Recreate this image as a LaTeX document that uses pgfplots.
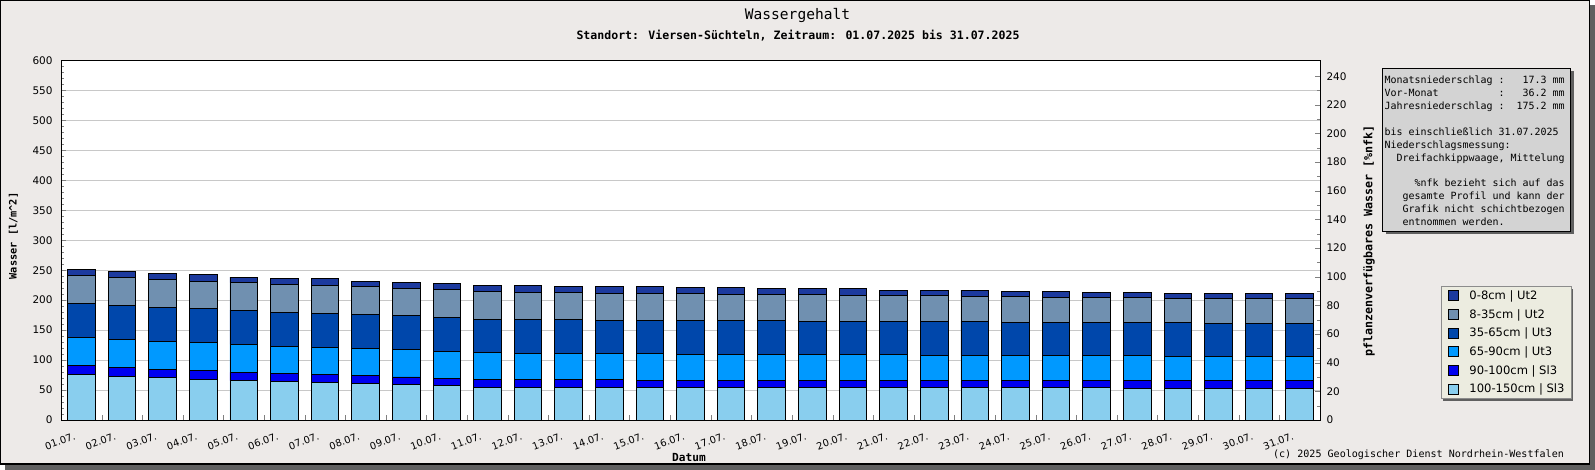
\documentclass[border=0pt]{standalone}
\usepackage{fontspec}
\setmainfont{DejaVu Sans}
\newfontfamily\mono{DejaVu Sans Mono}
\usepackage{pgfplots}
\pgfplotsset{compat=1.18}
\usepackage{pgfplotstable}

\definecolor{bgc}{RGB}{237,234,232}
\definecolor{shadowc}{RGB}{96,96,96}
\definecolor{boxc}{RGB}{211,211,211}
\definecolor{legbg}{RGB}{236,236,224}
\definecolor{legdraw}{RGB}{140,140,140}
\definecolor{gridc}{RGB}{200,200,200}
\definecolor{cA}{RGB}{137,206,238}
\definecolor{cB}{RGB}{0,0,240}
\definecolor{cC}{RGB}{0,153,255}
\definecolor{cD}{RGB}{0,71,171}
\definecolor{cE}{RGB}{112,144,176}
\definecolor{cF}{RGB}{28,58,158}

\pgfplotstableread{
day a b c d e f
1 76.3 15.0 46.8 56.8 46.7 10.1
2 72.4 15.6 46.7 56.8 46.8 10.0
3 70.7 13.9 46.8 56.8 46.8 10.0
4 67.9 15.1 46.7 56.3 45.6 10.6
5 65.7 13.9 46.8 56.8 46.2 8.9
6 64.0 14.0 45.0 56.8 46.8 10.0
7 62.4 13.9 45.1 56.8 46.8 10.5
8 60.7 13.9 45.1 56.8 46.8 8.3
9 59.5 12.3 46.3 56.5 45.1 10.3
10 58.3 11.7 45.0 56.7 46.6 8.9
11 55.0 12.2 46.1 55.0 46.7 8.9
12 55.0 12.2 44.5 56.6 45.0 10.6
13 55.0 12.2 44.5 56.6 45.0 8.9
14 55.0 12.2 44.5 55.0 45.0 10.5
15 55.0 10.6 46.1 55.0 45.0 10.5
16 55.0 10.6 44.4 56.7 45.0 8.9
17 55.0 10.6 44.4 56.7 43.3 10.6
18 55.0 10.6 44.4 56.7 43.3 8.9
19 55.0 10.6 44.4 55.0 45.0 8.9
20 55.0 10.6 44.4 55.0 43.3 10.6
21 55.0 10.6 44.4 55.0 43.3 8.4
22 55.0 10.6 42.7 56.7 43.3 8.4
23 55.0 10.6 42.7 56.7 41.7 10.0
24 55.0 10.6 42.7 55.0 43.4 8.3
25 55.0 10.6 42.7 55.0 41.7 10.0
26 55.0 10.6 42.7 55.0 41.7 8.3
27 53.3 12.3 42.7 55.0 41.7 8.3
28 53.3 12.3 41.1 56.6 40.0 8.4
29 53.3 12.3 41.1 55.0 41.6 8.4
30 53.3 12.3 41.1 55.0 41.6 8.4
31 53.3 12.3 41.1 55.0 41.6 8.4
}\datatable

\newcommand\s[1]{\hspace*{#1\fontcharwd\font`0}}

\begin{document}
\begin{tikzpicture}
\begin{scope}[x=1bp,y=1bp]
% outer frame with shadow
\fill[shadowc] (5,0) rectangle (1595,465);
\draw[fill=bgc, line width=1.5bp] (0.75,5.75) rectangle (1589.25,469.25);
% titles
\node[font=\mono\fontsize{14.6}{16}\selectfont] at (797.5,454) {Wassergehalt};
\node[font=\mono\bfseries\fontsize{11.6}{13}\selectfont] at (798,434) {Standort: Viersen-Süchteln, Zeitraum: 01.07.2025 bis 31.07.2025};
% legend shadow
\fill[shadowc] (1442.5,68.5) rectangle (1572.5,180.5);
% info box
\fill[shadowc] (1385.5,235.5) rectangle (1573.5,398.5);
\draw[fill=boxc, line width=0.9bp] (1382,239) rectangle (1570,402);
\node[anchor=north west, inner sep=0pt, align=left, font=\mono\fontsize{10}{13}\selectfont] at (1384.5,394.5) {%
Monatsniederschlag :\s{3}17.3 mm\\
Vor-Monat\s{10}:\s{3}36.2 mm\\
Jahresniederschlag :\s{2}175.2 mm\\
\mbox{}\\
bis einschließlich 31.07.2025\\
Niederschlagsmessung:\\
\s{2}Dreifachkippwaage, Mittelung\\
\mbox{}\\
\s{5}\%nfk bezieht sich auf das\\
\s{3}gesamte Profil und kann der\\
\s{3}Grafik nicht schichtbezogen\\
\s{3}entnommen werden.};
% axis labels
\node[font=\mono\bfseries\fontsize{10.3}{12}\selectfont, rotate=90] at (13.3,234) {Wasser [l/m\textasciicircum 2]};
\node[font=\mono\bfseries\fontsize{11.7}{13}\selectfont, rotate=90] at (1369,229) {pflanzenverfügbares Wasser [\%nfk]};
\node[font=\mono\bfseries\fontsize{11.2}{13}\selectfont] at (689,12.7) {Datum};
\node[font=\mono\fontsize{10.1}{12}\selectfont] at (1418.5,15) {(c) 2025 Geologischer Dienst Nordrhein-Westfalen};
\end{scope}

% main axis (bars, left scale)
\begin{axis}[
  at={(61bp,50bp)}, anchor=south west,
  width=1259bp, height=359.5bp, scale only axis,
  ybar stacked, bar width=0.68,
  xmin=0.5, xmax=31.5, ymin=0, ymax=600,
  xtick={1,...,31},
  xticklabels={01.07.,02.07.,03.07.,04.07.,05.07.,06.07.,07.07.,08.07.,09.07.,10.07.,11.07.,12.07.,13.07.,14.07.,15.07.,16.07.,17.07.,18.07.,19.07.,20.07.,21.07.,22.07.,23.07.,24.07.,25.07.,26.07.,27.07.,28.07.,29.07.,30.07.,31.07.},
  xtick style={draw=none},
  xticklabel style={font=\fontsize{9.9}{11}\selectfont, rotate=20, anchor=north east, xshift=-8bp, yshift=-5.5bp},
  ytick={0,50,...,600}, minor y tick num=4, ytick pos=left,
  yticklabel style={font=\fontsize{10.5}{12}\selectfont, xshift=-5bp},
  /pgf/number format/assume math mode=true,
  ymajorgrids, grid style={color=gridc, line width=0.8bp},
  major tick length=5bp, minor tick length=3bp,
  axis background/.style={fill=white},
  axis line style={line width=0.9bp},
  every axis plot post/.append style={legend image code/.code={\draw[##1,draw=black,line width=0.8bp] (0bp,-5bp) rectangle (10bp,5bp);}},
  reverse legend, legend cell align=left,
  legend style={at={(1.0965,0.3727)}, anchor=north west, draw=legdraw, fill=legbg,
    font=\fontsize{11.6}{13}\selectfont, inner xsep=6bp, inner ysep=3.5bp, row sep=6.3bp,
    nodes={inner sep=1bp}},
]
\addplot[fill=cA, draw=black, line width=0.9bp] table[x=day,y=a]{\datatable};
\addlegendentry{\hspace*{10bp}100-150cm | Sl3}
\addplot[fill=cB, draw=black, line width=0.9bp] table[x=day,y=b]{\datatable};
\addlegendentry{\hspace*{10bp}90-100cm | Sl3}
\addplot[fill=cC, draw=black, line width=0.9bp] table[x=day,y=c]{\datatable};
\addlegendentry{\hspace*{10bp}65-90cm | Ut3}
\addplot[fill=cD, draw=black, line width=0.9bp] table[x=day,y=d]{\datatable};
\addlegendentry{\hspace*{10bp}35-65cm | Ut3}
\addplot[fill=cE, draw=black, line width=0.9bp] table[x=day,y=e]{\datatable};
\addlegendentry{\hspace*{10bp}8-35cm | Ut2}
\addplot[fill=cF, draw=black, line width=0.9bp] table[x=day,y=f]{\datatable};
\addlegendentry{\hspace*{10bp}0-8cm | Ut2}
\end{axis}

% right axis (%nfk) and day separator ticks
\begin{axis}[
  at={(61bp,50bp)}, anchor=south west,
  width=1259bp, height=359.5bp, scale only axis,
  xmin=0.5, xmax=31.5, ymin=0, ymax=251,
  axis y line*=right, axis x line*=bottom, axis line style={-, line width=0.9bp},
  xtick={1.5,2.5,...,30.5}, xticklabels={},
  ytick={0,20,...,240}, minor y tick num=1,
  tick align=inside, major tick length=5bp, minor tick length=3bp,
  yticklabel style={font=\fontsize{10.5}{12}\selectfont, xshift=3bp},
  /pgf/number format/assume math mode=true,
]
\end{axis}
\end{tikzpicture}
\end{document}
